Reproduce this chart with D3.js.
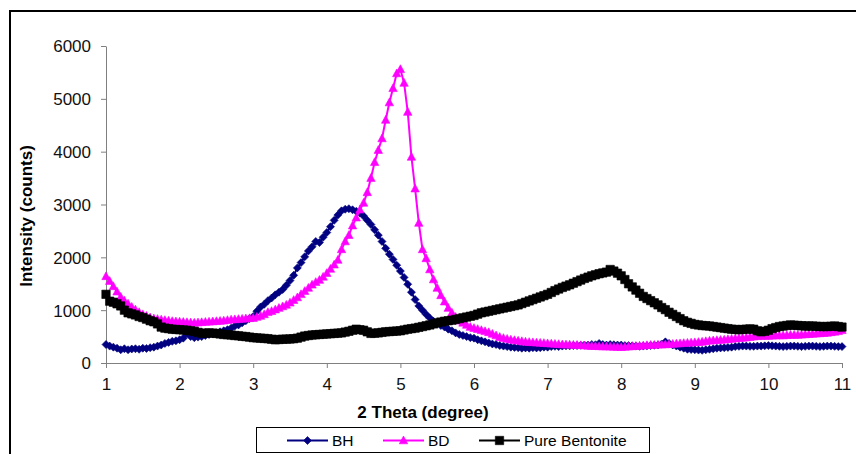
<!DOCTYPE html>
<html>
<head>
<meta charset="utf-8">
<script src="https://cdn.jsdelivr.net/npm/d3@7"></script>
<style>
  html, body { margin: 0; padding: 0; background: #fff; }
  svg { display: block; font-family: Arial, "Liberation Sans", sans-serif; }
</style>
</head>
<body>
<svg id="chart" width="856" height="454"></svg>
<script>
// ---- data (2 Theta from 1 to 11, step 0.05) ----
const thetaStart = 1, thetaStep = 0.05, thetaCount = 201;
const theta = d3.range(thetaCount).map(i => +(thetaStart + i * thetaStep).toFixed(2));

const seriesNames = ["BH", "BD", "Pure Bentonite"];

const bh = [
  350,320,300,280,250,270,250,265,270,260,280,275,290,300,320,340,370,390,410,420,
  440,470,560,500,480,490,500,520,540,550,570,590,610,630,660,700,720,760,800,840,
  880,980,1060,1110,1180,1230,1290,1340,1390,1470,1560,1660,1800,1900,2010,2120,2200,2300,2280,2380,
  2470,2580,2700,2800,2880,2910,2920,2900,2870,2840,2780,2700,2620,2520,2420,2300,2170,2060,1960,1850,
  1740,1620,1490,1340,1200,1080,1000,920,850,790,750,710,680,640,610,570,540,520,500,480,
  470,440,420,400,380,360,350,330,320,310,300,295,290,280,285,280,290,285,290,300,
  300,310,315,310,320,325,325,330,330,335,340,340,350,345,370,350,340,350,345,340,
  340,330,330,325,320,315,320,325,330,335,340,360,400,370,340,320,300,280,260,255,
  250,245,240,250,260,270,280,285,290,295,300,310,315,320,320,315,315,320,320,325,
  330,325,320,315,310,315,320,320,315,310,315,320,320,315,310,315,320,320,315,310,
  310
];

const bd = [
  1640,1550,1450,1350,1250,1180,1120,1060,1010,960,920,890,860,840,830,820,810,800,790,785,
  780,775,770,765,760,765,770,775,780,785,790,795,800,810,820,825,830,835,840,845,
  850,870,890,920,960,980,1010,1040,1070,1100,1140,1190,1240,1300,1360,1420,1480,1530,1570,1630,
  1700,1780,1860,1950,2150,2300,2420,2600,2750,2900,3030,3230,3500,3800,4030,4250,4600,4930,5200,5480,
  5560,5300,4750,3900,3300,2650,2150,1980,1770,1580,1420,1280,1160,1040,950,870,800,760,720,680,
  660,640,620,600,580,550,520,490,470,455,440,430,420,410,400,395,390,385,380,375,
  370,365,360,355,350,348,345,342,340,335,330,325,320,318,315,312,310,308,305,302,
  300,305,310,315,320,325,330,335,340,342,345,348,350,355,360,365,370,375,380,385,
  390,395,400,410,420,425,430,435,440,448,455,462,470,475,480,490,500,505,510,510,
  510,515,520,520,520,525,530,530,530,535,540,545,550,555,560,565,570,580,590,600,
  620
];

const bentonite = [
  1300,1170,1150,1120,1080,1000,950,930,910,880,860,830,800,780,740,680,660,650,640,635,
  630,625,620,610,600,580,560,565,570,565,560,550,540,535,530,520,515,505,500,490,
  480,475,470,465,460,450,440,445,450,452,455,460,470,490,510,520,530,535,540,545,
  550,555,560,565,570,585,600,620,640,630,620,590,560,565,570,580,590,595,600,605,
  610,625,640,650,660,675,690,705,720,740,760,775,790,800,810,825,840,855,870,885,
  900,925,950,965,980,995,1010,1025,1040,1055,1070,1085,1100,1125,1150,1175,1200,1225,1250,1275,
  1300,1335,1370,1400,1430,1455,1480,1510,1540,1570,1600,1625,1650,1670,1690,1705,1720,1770,1740,1700,
  1650,1580,1500,1440,1380,1320,1260,1220,1180,1140,1100,1050,1010,960,920,880,840,800,770,750,
  730,720,710,705,700,690,680,670,660,650,640,635,630,635,640,645,640,610,590,600,
  620,650,670,690,700,710,720,715,710,705,700,700,700,695,690,690,690,695,700,690,
  680
];

const xTicks = [1,2,3,4,5,6,7,8,9,10,11];
const yTicks = [0,1000,2000,3000,4000,5000,6000];
const xTitle = "2 Theta (degree)";
const yTitle = "Intensity (counts)";

// ---- styles ----
const colors = ["#000080", "#FF00FF", "#000000"];
const markerKinds = ["diamond", "triangle", "square"];

const svg = d3.select("#chart");

// outer frame (partial, as cropped)
svg.append("path")
  .attr("d", "M10,454 L10,11 L856,11")
  .attr("fill", "none").attr("stroke", "#000").attr("stroke-width", 2);

const x = d3.scaleLinear().domain([1, 11]).range([106, 842]);
const y = d3.scaleLinear().domain([0, 6000]).range([363, 46]);

// axes
const xAxis = svg.append("g").attr("transform", "translate(0,363)")
  .call(d3.axisBottom(x).tickValues(xTicks).tickSize(5).tickSizeOuter(0).tickFormat(d3.format("d")));
const yAxis = svg.append("g").attr("transform", "translate(106,0)")
  .call(d3.axisLeft(y).tickValues(yTicks).tickSize(5).tickSizeOuter(0).tickFormat(d3.format("d")));

[xAxis, yAxis].forEach(g => {
  g.select(".domain").attr("stroke", "#808080").attr("stroke-width", 1);
  g.selectAll(".tick line").attr("stroke", "#808080").attr("stroke-width", 1);
  g.selectAll(".tick text").attr("fill", "#111").style("font-size", "17px")
    .style("font-family", "Arial, 'Liberation Sans', sans-serif");
});
xAxis.selectAll(".tick text").attr("dy", null).attr("y", 27);
yAxis.selectAll(".tick text").attr("x", -15).attr("dy", "0.35em");

// axis titles
svg.append("text").attr("x", 423).attr("y", 418).attr("text-anchor", "middle")
  .style("font-size", "17px").style("font-weight", "bold").attr("fill", "#000").text(xTitle);
svg.append("text").attr("transform", "translate(32,216) rotate(-90)").attr("text-anchor", "middle")
  .style("font-size", "17px").style("font-weight", "bold").attr("fill", "#000").text(yTitle);

// marker shapes
function markerPath(kind) {
  if (kind === "diamond") return "M0,-4 L4,0 L0,4 L-4,0 Z";
  if (kind === "triangle") return "M0,-4.5 L4.2,3.3 L-4.2,3.3 Z";
  return "M-4.2,-4.2 L4.2,-4.2 L4.2,4.2 L-4.2,4.2 Z";
}

const allSeries = [bh, bd, bentonite];
const line = d3.line().x(d => x(d[0])).y(d => y(d[1]));

allSeries.forEach((vals, si) => {
  const pts = theta.map((t, i) => [t, vals[i]]);
  const g = svg.append("g");
  g.append("path").datum(pts).attr("d", line)
    .attr("fill", "none").attr("stroke", colors[si]).attr("stroke-width", 2);
  g.selectAll("path.m").data(pts).join("path").attr("class", "m")
    .attr("d", markerPath(markerKinds[si]))
    .attr("transform", d => `translate(${x(d[0])},${y(d[1])})`)
    .attr("fill", colors[si]).attr("stroke", colors[si]).attr("stroke-width", 0.6);
});

// legend
const legend = svg.append("g");
legend.append("rect").attr("x", 256.5).attr("y", 427.5).attr("width", 393).attr("height", 25)
  .attr("fill", "#fff").attr("stroke", "#000").attr("stroke-width", 1);
const legendX = [287, 383, 479];
seriesNames.forEach((name, i) => {
  const lx = legendX[i];
  legend.append("line").attr("x1", lx).attr("x2", lx + 41).attr("y1", 440.5).attr("y2", 440.5)
    .attr("stroke", colors[i]).attr("stroke-width", 2);
  legend.append("path").attr("d", markerPath(markerKinds[i]))
    .attr("transform", `translate(${lx + 20.5},440.5)`)
    .attr("fill", colors[i]).attr("stroke", colors[i]).attr("stroke-width", 0.6);
  legend.append("text").attr("x", lx + 45).attr("y", 446)
    .style("font-size", "15.5px").attr("fill", "#000").text(name);
});
</script>
</body>
</html>
